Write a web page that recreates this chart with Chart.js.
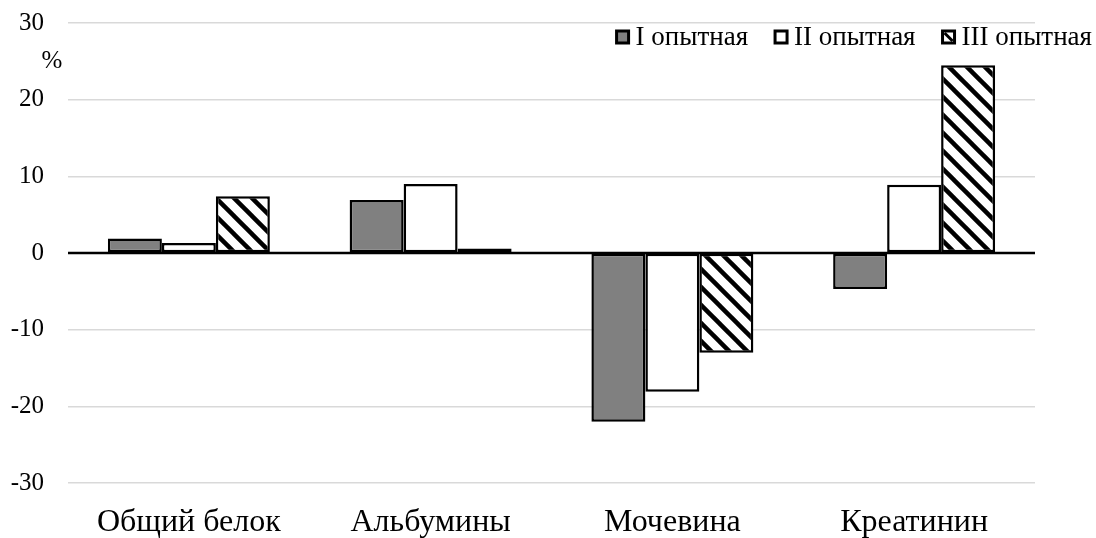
<!DOCTYPE html>
<html>
<head>
<meta charset="utf-8">
<script src="https://cdn.jsdelivr.net/npm/chart.js@4/dist/chart.umd.min.js"></script>
<style>
  html, body { margin: 0; padding: 0; background: #fff; }
  #wrap { width: 1096px; height: 538px; }
</style>
</head>
<body>
<div id="wrap"><canvas id="c" width="1096" height="538"></canvas></div>
<script>
// Indicators and change (%) for the three experimental groups
const categories = ['Общий белок', 'Альбумины', 'Мочевина', 'Креатинин'];
const seriesNames = ['I опытная', 'II опытная', 'III опытная'];
const group1 = [1.9, 6.9, -22.0, -4.7];
const group2 = [1.3, 9.0, -18.1, 8.9];
const group3 = [7.4, 0.6, -13.0, 24.5];
const yTicks = [-30, -20, -10, 0, 10, 20, 30];
const unitLabel = '%';

const FONT = '"Liberation Serif", "Times New Roman", serif';

// Diagonal hatch fill (top-left to bottom-right stripes)
function makeHatch() {
  const s = 18;
  const c = document.createElement('canvas');
  c.width = s; c.height = s;
  const g = c.getContext('2d');
  g.fillStyle = '#fff';
  g.fillRect(0, 0, s, s);
  g.strokeStyle = '#000';
  g.lineWidth = 4.5;
  for (let k = -1; k <= 1; k++) {
    g.beginPath();
    g.moveTo(k * s - 2, -2);
    g.lineTo(k * s + s + 2, s + 2);
    g.stroke();
  }
  return g.createPattern(c, 'repeat');
}
const hatch = makeHatch();

const fills = ['#808080', '#ffffff', hatch];

// Legend drawn inside the plot, right-aligned near the top
const inlineLegend = {
  id: 'inlineLegend',
  afterDraw(chart) {
    const ctx = chart.ctx;
    ctx.save();
    ctx.font = '27px ' + FONT;
    ctx.textBaseline = 'middle';
    const box = 12, gapText = 7, gapItem = 27;
    const y = 37;
    const widths = seriesNames.map(n => ctx.measureText(n).width);
    let total = 0;
    widths.forEach((w, i) => { total += box + gapText + w + (i ? gapItem : 0); });
    let x = 1092 - total;
    chart.data.datasets.forEach((ds, i) => {
      if (i === 2) {
        ctx.fillStyle = '#fff';
        ctx.fillRect(x, y - box / 2, box, box);
        ctx.strokeStyle = '#000';
        ctx.lineWidth = 3;
        ctx.beginPath();
        ctx.moveTo(x + 2, y - box / 2 + 2);
        ctx.lineTo(x + box - 2, y + box / 2 - 2);
        ctx.stroke();
      } else {
        ctx.fillStyle = ds.backgroundColor;
        ctx.fillRect(x, y - box / 2, box, box);
      }
      ctx.strokeStyle = '#000';
      ctx.lineWidth = 3;
      ctx.strokeRect(x, y - box / 2, box, box);
      ctx.fillStyle = '#000';
      ctx.textAlign = 'left';
      ctx.fillText(seriesNames[i], x + box + gapText, y + 1);
      x += box + gapText + widths[i] + gapItem;
    });
    // unit label under the top tick
    const yScale = chart.scales.y;
    ctx.font = '25px ' + FONT;
    ctx.textAlign = 'center';
    ctx.fillText(unitLabel, 52, yScale.getPixelForValue(25));
    ctx.restore();
  }
};

// Heavy zero line drawn over the bars' bases
const zeroLine = {
  id: 'zeroLine',
  afterDatasetsDraw(chart) {
    const { ctx, chartArea } = chart;
    const y0 = chart.scales.y.getPixelForValue(0);
    ctx.save();
    ctx.strokeStyle = '#000';
    ctx.lineWidth = 2.5;
    ctx.beginPath();
    ctx.moveTo(chartArea.left, y0);
    ctx.lineTo(chartArea.right, y0);
    ctx.stroke();
    ctx.restore();
  }
};

const mkSet = (label, data, i) => ({
  label,
  data,
  backgroundColor: fills[i],
  borderColor: '#000',
  borderWidth: 2.5,
  borderSkipped: false,
  categoryPercentage: 0.67,
  barPercentage: 1.0
});

new Chart(document.getElementById('c'), {
  type: 'bar',
  data: {
    labels: categories,
    datasets: [
      mkSet(seriesNames[0], group1, 0),
      mkSet(seriesNames[1], group2, 1),
      mkSet(seriesNames[2], group3, 2)
    ]
  },
  options: {
    responsive: false,
    animation: false,
    events: [],
    layout: { padding: { top: 23, right: 61, bottom: 0, left: 0 } },
    plugins: { legend: { display: false }, tooltip: { enabled: false } },
    scales: {
      x: {
        grid: { display: false },
        border: { display: false },
        afterFit(s) { s.height = 55; s.paddingLeft = 0; s.paddingRight = 0; },
        ticks: { color: '#000', font: { family: FONT, size: 32 }, padding: 12, maxRotation: 0 }
      },
      y: {
        min: -30, max: 30,
        afterBuildTicks(s) { s.ticks = yTicks.map(v => ({ value: v })); },
        afterFit(s) { s.width = 68; s.paddingTop = 0; s.paddingBottom = 0; },
        grid: { color: '#d9d9d9', lineWidth: 1.5, drawTicks: false },
        border: { display: false },
        ticks: { color: '#000', font: { family: FONT, size: 25 }, padding: 24 }
      }
    }
  },
  plugins: [zeroLine, inlineLegend]
});
</script>
</body>
</html>
